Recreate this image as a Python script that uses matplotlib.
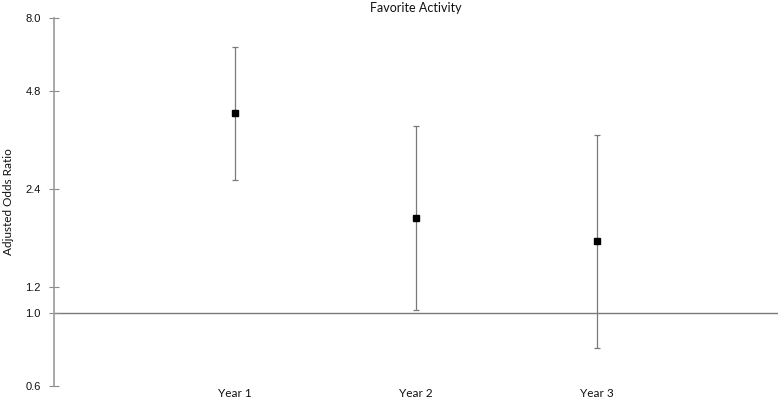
import matplotlib
matplotlib.use("Agg")
import matplotlib.pyplot as plt
from matplotlib.ticker import FixedLocator, FixedFormatter, NullLocator

categories = ["Year 1", "Year 2", "Year 3"]
odds = [4.10, 1.96, 1.67]
lower = [2.55, 1.02, 0.78]
upper = [6.52, 3.75, 3.51]
yticks = [0.6, 1.0, 1.2, 2.4, 4.8, 8.0]
ytick_labels = ["0.6", "1.0", "1.2", "2.4", "4.8", "8.0"]

fig = plt.figure(figsize=(7.8, 4.0), dpi=100)
ax = fig.add_axes([54/780, 14.3/400, (778-54)/780, (385.7-18.3)/400])

xs = list(range(1, len(categories) + 1))
yerr = [[o - l for o, l in zip(odds, lower)], [u - o for o, u in zip(odds, upper)]]
ax.errorbar(xs, odds, yerr=yerr, fmt="s", color="black", ms=4,
            ecolor="#7a7a7a", elinewidth=0.9, capsize=2.2, capthick=0.9, zorder=3)
ax.axhline(1.0, color="#7a7a7a", lw=1.0, zorder=1)

ax.set_yscale("log")
ax.set_ylim(0.6, 8.0)
ax.set_xlim(0, 4)
ax.yaxis.set_major_locator(FixedLocator(yticks))
ax.yaxis.set_major_formatter(FixedFormatter(ytick_labels))
ax.yaxis.set_minor_locator(NullLocator())
ax.set_xticks(xs)
ax.set_xticklabels(categories, fontfamily="Lato", fontsize=8.5, color="#111111")
ax.tick_params(axis="x", length=0, pad=1.5)
ax.tick_params(axis="y", direction="inout", length=7, color="#8a8a8a",
               labelsize=8, pad=6, labelcolor="#111111")
for lab in ax.get_yticklabels():
    lab.set_fontfamily("Liberation Sans")

for s in ["top", "right", "bottom"]:
    ax.spines[s].set_visible(False)
ax.spines["left"].set_color("#9a9a9a")
ax.spines["left"].set_linewidth(1.2)

ax.set_ylabel("Adjusted Odds Ratio", fontfamily="Lato", fontsize=8.5, color="#111111")
ax.yaxis.set_label_coords((14 - 54) / 724, 0.5)
fig.text(416/780, 1 - 7.5/400, "Favorite Activity", ha="center", va="center",
         fontfamily="Lato", fontsize=9, color="#111111")

fig.savefig("out.png", dpi=100)
